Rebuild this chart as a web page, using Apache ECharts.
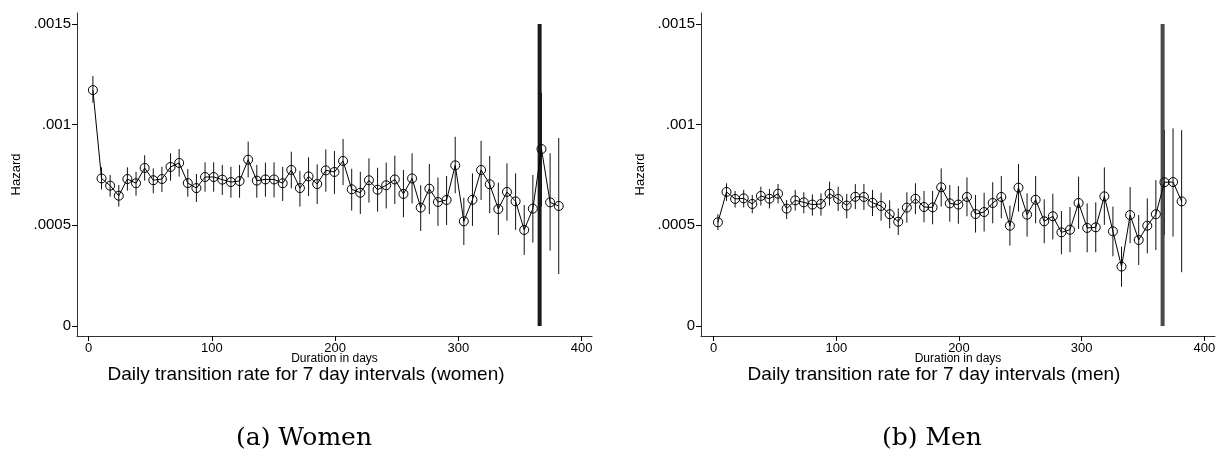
<!DOCTYPE html>
<html>
<head>
<meta charset="utf-8">
<script src="https://cdn.jsdelivr.net/npm/echarts@6/dist/echarts.min.js"></script>
<style>
html, body { margin: 0; padding: 0; background: #fff; }
#chart { width: 1219px; height: 470px; }
</style>
</head>
<body>
<div id="chart"></div>
<script>
// midpoints of the 7 day intervals (days)
var days = [3.5, 10.5, 17.5, 24.5, 31.5, 38.5, 45.5, 52.5, 59.5, 66.5, 73.5, 80.5, 87.5, 94.5,
    101.5, 108.5, 115.5, 122.5, 129.5, 136.5, 143.5, 150.5, 157.5, 164.5, 171.5, 178.5, 185.5,
    192.5, 199.5, 206.5, 213.5, 220.5, 227.5, 234.5, 241.5, 248.5, 255.5, 262.5, 269.5, 276.5,
    283.5, 290.5, 297.5, 304.5, 311.5, 318.5, 325.5, 332.5, 339.5, 346.5, 353.5, 360.5, 367.5,
    374.5, 381.5];

// women
var womenHazard = [0.001172, 0.000733, 0.000697, 0.000647, 0.000730, 0.000709, 0.000785, 0.000724, 0.000730, 0.000790,
    0.000810, 0.000710, 0.000685, 0.000740, 0.000740, 0.000727, 0.000715, 0.000720, 0.000826, 0.000722,
    0.000728, 0.000728, 0.000709, 0.000775, 0.000685, 0.000743, 0.000705, 0.000773, 0.000765, 0.000820,
    0.000679, 0.000662, 0.000724, 0.000677, 0.000699, 0.000728, 0.000656, 0.000733, 0.000588, 0.000682,
    0.000616, 0.000626, 0.000798, 0.000520, 0.000627, 0.000775, 0.000704, 0.000581, 0.000666, 0.000619,
    0.000477, 0.000583, 0.000879, 0.000614, 0.000596];
var womenLow = [0.001109, 0.000679, 0.000642, 0.000593, 0.000672, 0.000647, 0.000722, 0.000659, 0.000666, 0.000722,
    0.000742, 0.000642, 0.000616, 0.000667, 0.000667, 0.000651, 0.000637, 0.000637, 0.000738, 0.000637,
    0.000642, 0.000639, 0.000621, 0.000684, 0.000593, 0.000646, 0.000606, 0.000667, 0.000656, 0.000700,
    0.000573, 0.000556, 0.000613, 0.000568, 0.000584, 0.000606, 0.000540, 0.000609, 0.000472, 0.000556,
    0.000497, 0.000502, 0.000659, 0.000402, 0.000497, 0.000626, 0.000560, 0.000452, 0.000523, 0.000477,
    0.000353, 0.000414, 0.000593, 0.000374, 0.000258];
var womenHigh = [0.001242, 0.000788, 0.000750, 0.000700, 0.000788, 0.000766, 0.000848, 0.000783, 0.000791, 0.000858,
    0.000879, 0.000780, 0.000755, 0.000813, 0.000813, 0.000800, 0.000791, 0.000800, 0.000916, 0.000800,
    0.000811, 0.000813, 0.000791, 0.000866, 0.000770, 0.000838, 0.000803, 0.000877, 0.000869, 0.000929,
    0.000781, 0.000766, 0.000833, 0.000786, 0.000811, 0.000846, 0.000775, 0.000858, 0.000700, 0.000805,
    0.000737, 0.000745, 0.000940, 0.000637, 0.000758, 0.000920, 0.000844, 0.000712, 0.000808, 0.000758,
    0.000601, 0.000750, 0.001159, 0.000858, 0.000934];

// men
var menHazard = [0.000515, 0.000666, 0.000631, 0.000634, 0.000606, 0.000646, 0.000632, 0.000657, 0.000583, 0.000624,
    0.000614, 0.000603, 0.000606, 0.000657, 0.000631, 0.000598, 0.000642, 0.000641, 0.000612, 0.000596,
    0.000555, 0.000518, 0.000588, 0.000632, 0.000591, 0.000589, 0.000689, 0.000609, 0.000603, 0.000641,
    0.000556, 0.000566, 0.000611, 0.000641, 0.000498, 0.000687, 0.000553, 0.000627, 0.000520, 0.000545,
    0.000465, 0.000478, 0.000611, 0.000487, 0.000490, 0.000644, 0.000470, 0.000295, 0.000551, 0.000427,
    0.000498, 0.000555, 0.000714, 0.000715, 0.000619];
var menLow = [0.000477, 0.000621, 0.000588, 0.000589, 0.000560, 0.000598, 0.000584, 0.000609, 0.000531, 0.000573,
    0.000560, 0.000548, 0.000548, 0.000598, 0.000571, 0.000535, 0.000580, 0.000576, 0.000546, 0.000523,
    0.000485, 0.000452, 0.000513, 0.000555, 0.000515, 0.000505, 0.000593, 0.000518, 0.000508, 0.000545,
    0.000464, 0.000469, 0.000510, 0.000535, 0.000399, 0.000568, 0.000444, 0.000510, 0.000411, 0.000430,
    0.000356, 0.000366, 0.000482, 0.000366, 0.000366, 0.000502, 0.000346, 0.000195, 0.000411, 0.000303,
    0.000361, 0.000377, 0.000452, 0.000444, 0.000267];
var menHigh = [0.000555, 0.000709, 0.000671, 0.000676, 0.000651, 0.000692, 0.000680, 0.000705, 0.000626, 0.000676,
    0.000664, 0.000654, 0.000659, 0.000717, 0.000692, 0.000656, 0.000705, 0.000705, 0.000676, 0.000662,
    0.000624, 0.000584, 0.000664, 0.000709, 0.000671, 0.000671, 0.000783, 0.000700, 0.000695, 0.000738,
    0.000651, 0.000662, 0.000714, 0.000745, 0.000598, 0.000805, 0.000659, 0.000745, 0.000629, 0.000657,
    0.000571, 0.000591, 0.000742, 0.000609, 0.000614, 0.000788, 0.000593, 0.000394, 0.000690, 0.000551,
    0.000634, 0.000725, 0.000973, 0.000982, 0.000973];

// one year mark
var yearLine = [[366, 0], [366, 0.0015]];

var xTicks = [0, 100, 200, 300, 400];
var yTicks = [0, 0.0005, 0.001, 0.0015];

var titles = ['Daily transition rate for 7 day intervals (women)', 'Daily transition rate for 7 day intervals (men)'];
var captions = ['(a) Women', '(b) Men'];

var font = "'Liberation Sans', Arial, sans-serif";

var chart = echarts.init(document.getElementById('chart'), null, { renderer: 'canvas' });

function xAxisOf(grid, min, max) {
    return {
        type: 'value', gridIndex: grid, min: min, max: max,
        name: 'Duration in days', nameLocation: 'middle', nameGap: 17, nameMoveOverlap: false,
        nameTextStyle: { fontFamily: font, fontSize: 12, color: '#000' },
        axisLine: { show: true, onZero: false, lineStyle: { color: '#333', width: 1 } },
        axisTick: { show: true, length: 5, customValues: xTicks, lineStyle: { color: '#000' } },
        axisLabel: { customValues: xTicks, margin: 6, fontFamily: font, fontSize: 13, color: '#000' },
        splitLine: { show: false }
    };
}

function yAxisOf(grid) {
    return {
        type: 'value', gridIndex: grid, min: -0.00005, max: 0.001555,
        name: 'Hazard', nameLocation: 'middle', nameGap: 54, nameMoveOverlap: false,
        nameTextStyle: { fontFamily: font, fontSize: 13, color: '#000' },
        axisLine: { show: true, onZero: false, lineStyle: { color: '#333', width: 1 } },
        axisTick: { show: true, length: 5, customValues: yTicks, lineStyle: { color: '#000' } },
        axisLabel: {
            customValues: yTicks, margin: 6, fontFamily: font, fontSize: 15, color: '#000',
            formatter: function (v) { return v === 0 ? '0' : String(v).replace('0.', '.'); }
        },
        splitLine: { show: false }
    };
}

function errorBars(idx, low, high) {
    return {
        type: 'custom', xAxisIndex: idx, yAxisIndex: idx, silent: true, z: 2,
        data: days.map(function (d, i) { return [d, low[i], high[i]]; }),
        encode: { x: 0, y: [1, 2] },
        renderItem: function (params, api) {
            var a = api.coord([api.value(0), api.value(1)]);
            var b = api.coord([api.value(0), api.value(2)]);
            return {
                type: 'line',
                shape: { x1: a[0], y1: a[1], x2: b[0], y2: b[1] },
                style: { stroke: '#111', lineWidth: 1 }
            };
        }
    };
}

function hazardLine(idx, vals) {
    return {
        type: 'line', xAxisIndex: idx, yAxisIndex: idx, z: 4, silent: true,
        data: days.map(function (d, i) { return [d, vals[i]]; }),
        symbol: 'circle', symbolSize: 9,
        itemStyle: { color: 'rgba(0,0,0,0)', borderColor: '#000', borderWidth: 1 },
        lineStyle: { color: '#000', width: 1 }
    };
}

function yearMark(idx, color) {
    return {
        type: 'line', xAxisIndex: idx, yAxisIndex: idx, z: 3, silent: true,
        data: yearLine, symbol: 'none',
        lineStyle: { color: color, width: 4 }
    };
}

var textEls = [];
[306, 934].forEach(function (cx, i) {
    textEls.push({
        type: 'text', x: cx, y: 375,
        style: { text: titles[i], fill: '#000', font: '19px ' + font, align: 'center', verticalAlign: 'middle' }
    });
    textEls.push({
        type: 'text', x: [304, 932][i], y: 438,
        style: { text: captions[i], fill: '#000', font: "25px 'DejaVu Serif', serif", align: 'center', verticalAlign: 'middle' }
    });
});

chart.setOption({
    animation: false,
    backgroundColor: '#fff',
    grid: [
        { left: 77, top: 13, width: 515, height: 323 },
        { left: 701, top: 13, width: 514, height: 323 }
    ],
    xAxis: [xAxisOf(0, -9.4, 408.5), xAxisOf(1, -10.3, 408.7)],
    yAxis: [yAxisOf(0), yAxisOf(1)],
    series: [
        yearMark(0, '#1a1a1a'),
        errorBars(0, womenLow, womenHigh),
        hazardLine(0, womenHazard),
        yearMark(1, '#4a4a4a'),
        errorBars(1, menLow, menHigh),
        hazardLine(1, menHazard)
    ],
    graphic: textEls
});
</script>
</body>
</html>
